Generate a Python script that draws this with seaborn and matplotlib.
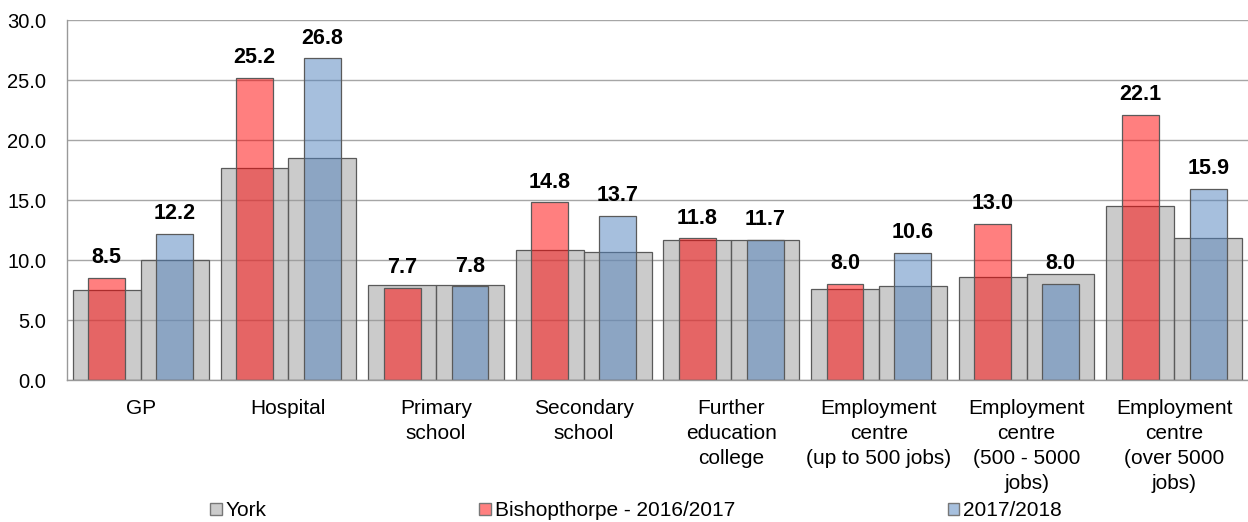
import matplotlib
matplotlib.use("Agg")
import matplotlib.pyplot as plt
from matplotlib.patches import Patch
import seaborn as sns
import pandas as pd

categories = ["GP", "Hospital", "Primary\nschool", "Secondary\nschool",
              "Further\neducation\ncollege", "Employment\ncentre\n(up to 500 jobs)",
              "Employment\ncentre\n(500 - 5000\njobs)", "Employment\ncentre\n(over 5000\njobs)"]
periods = ["2016/2017", "2017/2018"]
york_2016 = [7.5, 17.7, 7.9, 10.8, 11.7, 7.6, 8.6, 14.5]
york_2017 = [10.0, 18.5, 7.9, 10.7, 11.7, 7.8, 8.8, 11.8]
bish_2016 = [8.5, 25.2, 7.7, 14.8, 11.8, 8.0, 13.0, 22.1]
bish_2017 = [12.2, 26.8, 7.8, 13.7, 11.7, 10.6, 8.0, 15.9]
yticks = [0, 5, 10, 15, 20, 25, 30]
legend_labels = ["York", "Bishopthorpe - 2016/2017", "2017/2018"]

sns.set_style("white")
plt.rcParams['font.family'] = ['Liberation Sans', 'DejaVu Sans']
plt.rcParams['text.color'] = 'black'
plt.rcParams['xtick.labelcolor'] = 'black'
plt.rcParams['ytick.labelcolor'] = 'black'

df_york = pd.DataFrame({
    "category": categories * 2,
    "period": [periods[0]] * 8 + [periods[1]] * 8,
    "value": york_2016 + york_2017,
})
df_bish = pd.DataFrame({
    "category": categories * 2,
    "period": [periods[0]] * 8 + [periods[1]] * 8,
    "value": bish_2016 + bish_2017,
})

fig = plt.figure(figsize=(12.48, 5.22), dpi=100)
ax = fig.add_axes([67 / 1248, 1 - 380 / 522, 1 - 67 / 1248, 360 / 522])

grey_face = (0.6, 0.6, 0.6, 0.5)
red_face = (1.0, 0.0, 0.0, 0.5)
blue_face = (0.31, 0.506, 0.741, 0.5)
edge = "#5a5a5a"

sns.barplot(data=df_york, x="category", y="value", hue="period", order=categories,
            hue_order=periods, palette=["#cccccc", "#cccccc"], width=0.92, dodge=True,
            errorbar=None, saturation=1, legend=False, ax=ax,
            edgecolor=edge, linewidth=0.9)
for p in ax.patches:
    p.set_facecolor(grey_face)

sns.barplot(data=df_bish, x="category", y="value", hue="period", order=categories,
            hue_order=periods, palette=["#ff0000", "#4f81bd"], width=0.92, dodge=True,
            gap=0.456, errorbar=None, saturation=1, legend=False, ax=ax,
            edgecolor=edge, linewidth=0.9)

for cont, fc in zip(ax.containers[2:4], [red_face, blue_face]):
    for p in cont:
        p.set_facecolor(fc)
    ax.bar_label(cont, fmt="%.1f", padding=7, fontsize=15.5, fontweight="bold", color="black")

ax.set_xlim(-0.5, 7.5)
ax.set_ylim(0, 30)
ax.set_yticks(yticks)
ax.set_yticklabels([f"{v:.1f}" for v in yticks], fontsize=14.5, color="black")
ax.set_xticks(range(len(categories)))
ax.set_xticklabels(categories, fontsize=15, linespacing=1.4, color="black")
ax.set_xticks([i - 0.5 for i in range(len(categories) + 1)], minor=True)
ax.tick_params(axis="x", which="major", length=0, pad=14)
ax.tick_params(axis="x", which="minor", length=5, color="#999999", direction="out", width=1)
ax.tick_params(axis="y", length=5, color="#999999", direction="out", width=1, pad=10)
ax.set_xlabel("")
ax.set_ylabel("")

ax.yaxis.grid(True, color="#a6a6a6", linewidth=1)
ax.set_axisbelow(True)
for s in ["top", "right"]:
    ax.spines[s].set_visible(False)
for s in ["left", "bottom"]:
    ax.spines[s].set_color("#999999")
    ax.spines[s].set_linewidth(1)

handles = [Patch(facecolor="#cccccc", edgecolor="#777777"),
           Patch(facecolor="#ff8080", edgecolor="#777777"),
           Patch(facecolor="#a7c0de", edgecolor="#777777")]
fig.legend(handles, legend_labels, loc="center", bbox_to_anchor=(636 / 1248, 1 - 511 / 522),
           ncol=3, frameon=False, fontsize=15, handlelength=0.55, handleheight=0.55,
           handletextpad=0.2, columnspacing=10.2, borderpad=0, borderaxespad=0,
           labelcolor="black")

fig.savefig("out.png", dpi=100)
